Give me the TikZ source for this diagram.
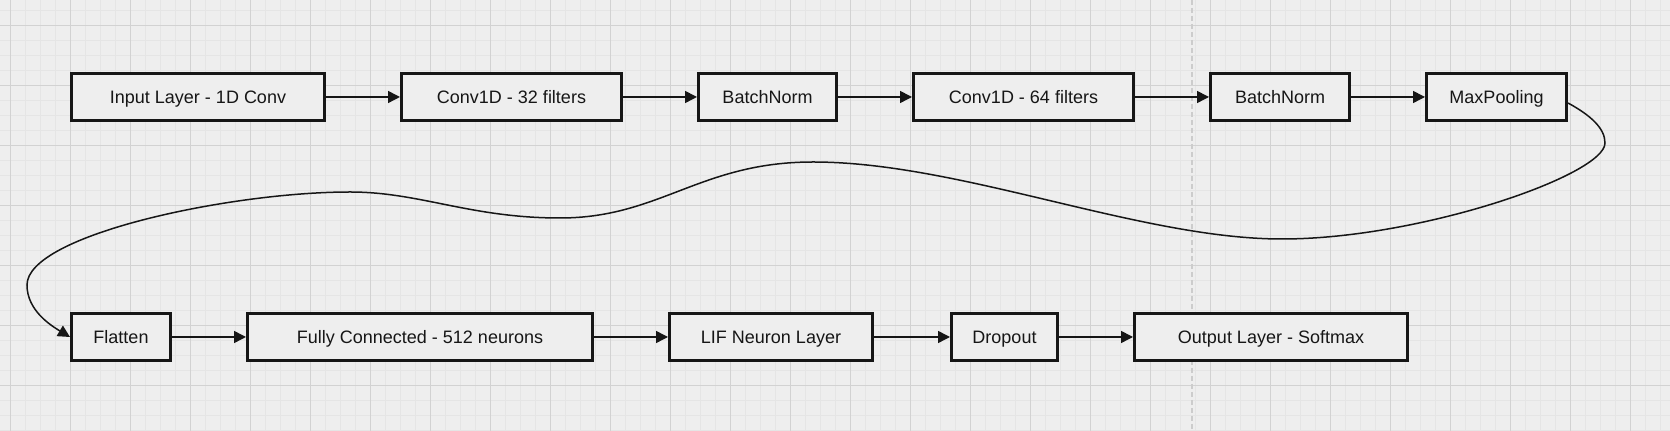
\documentclass[tikz,border=0pt]{standalone}
\usepackage{fontspec}
\setmainfont{Liberation Sans}
\usetikzlibrary{positioning}
\usetikzlibrary{arrows.meta}
\definecolor{canvas}{RGB}{238,238,238}
\definecolor{gridmajor}{RGB}{210,210,210}
\definecolor{gridminor}{RGB}{229,229,229}
\definecolor{ink}{RGB}{22,22,22}

\begin{document}
\begin{tikzpicture}[x=0.5pt, y=-0.5pt, >={Triangle[length=6pt,width=6pt]}, node distance=37pt, font=\fontsize{9}{11}\selectfont]
    \tikzstyle{layer}=[draw=ink, line width=1.5pt, rectangle, fill=canvas, minimum height=23.5pt, inner sep=2pt, text height=6.5pt, text depth=0pt, text=ink]
    \tikzstyle{flow}=[->, draw=ink, line width=0.75pt]

    % page and grid
    \useasboundingbox (0,0) rectangle (1670,431);
    \fill[canvas] (0,0) rectangle (1670,431);
    \foreach \x in {10.7,25.7,...,1670} \draw[gridminor, line width=0.5pt] (\x,0) -- (\x,431);
    \foreach \y in {11,26,...,431} \draw[gridminor, line width=0.5pt] (0,\y) -- (1670,\y);
    \foreach \x in {10.7,70.7,...,1670} \draw[gridmajor, line width=0.5pt] (\x,0) -- (\x,431);
    \foreach \y in {26,86,...,431} \draw[gridmajor, line width=0.5pt] (0,\y) -- (1670,\y);
    \draw[gray!40, line width=0.75pt, dash pattern=on 2.5pt off 1.5pt] (1192,0) -- (1192,431);

    % first row
    \node[layer, minimum width=126.5pt, anchor=west] (inp) at (70,97) {Input Layer - 1D Conv};
    \node[layer, minimum width=110pt, right=of inp] (c32) {Conv1D - 32 filters};
    \node[layer, minimum width=69pt, right=of c32] (bn1) {BatchNorm};
    \node[layer, minimum width=110pt, right=of bn1] (c64) {Conv1D - 64 filters};
    \node[layer, minimum width=69.5pt, right=of c64] (bn2) {BatchNorm};
    \node[layer, minimum width=70pt, right=of bn2] (pool) {MaxPooling};

    % second row
    \node[layer, minimum width=49.5pt, below=95pt of inp.south west, anchor=north west] (flat) {Flatten};
    \node[layer, minimum width=172.5pt, right=of flat] (fc) {Fully Connected - 512 neurons};
    \node[layer, minimum width=101.5pt, right=of fc] (lif) {LIF Neuron Layer};
    \node[layer, minimum width=53pt, right=38pt of lif] (drop) {Dropout};
    \node[layer, minimum width=136.5pt, right=of drop] (outl) {Output Layer - Softmax};

    \foreach \a/\b in {inp/c32, c32/bn1, bn1/c64, c64/bn2, bn2/pool, flat/fc, fc/lif, lif/drop, drop/outl}
        \draw[flow] (\a) -- (\b);

    % long bend back to the second row
    \draw[flow] ([yshift=-3pt]pool.east) .. controls (1590,115) and (1605,128) .. (1605,143)
        .. controls (1605,175) and (1420,239) .. (1282,239)
        .. controls (1140,239) and (960,162) .. (813,162)
        .. controls (700,162) and (660,218) .. (560,218)
        .. controls (470,218) and (420,192) .. (350,192)
        .. controls (230,192) and (27,235) .. (27,285)
        .. controls (27,310) and (50,325) .. (flat.west);

\end{tikzpicture}
\end{document}
